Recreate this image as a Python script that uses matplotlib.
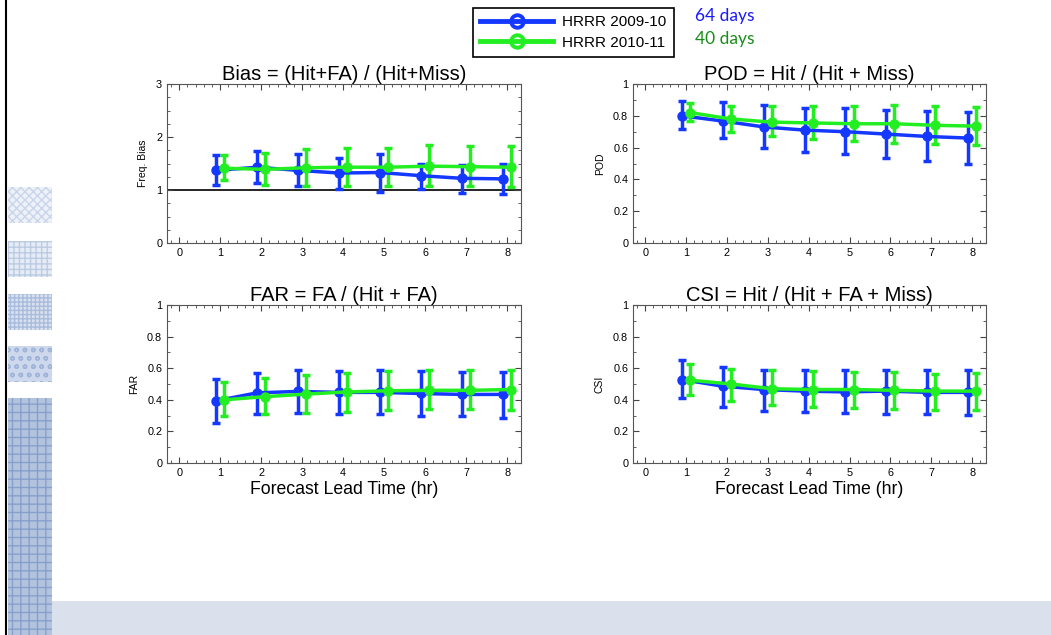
import matplotlib.pyplot as plt
import numpy as np
from matplotlib.patches import Rectangle
from matplotlib.lines import Line2D
from matplotlib.ticker import AutoMinorLocator, MultipleLocator, FuncFormatter

plt.rcParams['font.family'] = ['Liberation Sans', 'DejaVu Sans']

lead = np.arange(1, 9)
labels = ['HRRR 2009-10', 'HRRR 2010-11']
days = ['64 days', '40 days']

# Bias
bias_09 = [1.37, 1.43, 1.37, 1.32, 1.33, 1.27, 1.22, 1.21]
bias_09_lo = [1.09, 1.14, 1.07, 1.02, 0.97, 1.02, 0.95, 0.92]
bias_09_hi = [1.66, 1.73, 1.68, 1.60, 1.68, 1.49, 1.47, 1.50]
bias_10 = [1.41, 1.39, 1.42, 1.43, 1.43, 1.45, 1.44, 1.43]
bias_10_lo = [1.18, 1.10, 1.08, 1.07, 1.08, 1.08, 1.07, 1.06]
bias_10_hi = [1.66, 1.70, 1.77, 1.79, 1.79, 1.84, 1.83, 1.83]

# POD
pod_09 = [0.80, 0.767, 0.73, 0.71, 0.70, 0.685, 0.67, 0.66]
pod_09_lo = [0.716, 0.66, 0.60, 0.57, 0.56, 0.536, 0.517, 0.50]
pod_09_hi = [0.89, 0.887, 0.87, 0.85, 0.85, 0.836, 0.83, 0.825]
pod_10 = [0.82, 0.78, 0.76, 0.755, 0.75, 0.75, 0.74, 0.735]
pod_10_lo = [0.77, 0.70, 0.67, 0.655, 0.64, 0.63, 0.62, 0.615]
pod_10_hi = [0.88, 0.86, 0.86, 0.86, 0.86, 0.87, 0.86, 0.857]

# FAR
far_09 = [0.394, 0.444, 0.453, 0.447, 0.447, 0.44, 0.434, 0.434]
far_09_lo = [0.256, 0.31, 0.315, 0.31, 0.31, 0.30, 0.295, 0.287]
far_09_hi = [0.53, 0.57, 0.587, 0.583, 0.587, 0.583, 0.574, 0.576]
far_10 = [0.40, 0.42, 0.436, 0.45, 0.457, 0.46, 0.46, 0.465]
far_10_lo = [0.30, 0.31, 0.315, 0.325, 0.333, 0.34, 0.34, 0.335]
far_10_hi = [0.51, 0.535, 0.56, 0.57, 0.583, 0.587, 0.587, 0.587]

# CSI
csi_09 = [0.528, 0.486, 0.465, 0.455, 0.45, 0.455, 0.447, 0.447]
csi_09_lo = [0.41, 0.352, 0.33, 0.32, 0.315, 0.31, 0.31, 0.304]
csi_09_hi = [0.654, 0.608, 0.59, 0.59, 0.587, 0.59, 0.59, 0.587]
csi_10 = [0.524, 0.50, 0.47, 0.465, 0.465, 0.46, 0.455, 0.455]
csi_10_lo = [0.432, 0.394, 0.367, 0.356, 0.346, 0.34, 0.335, 0.335]
csi_10_hi = [0.625, 0.597, 0.587, 0.583, 0.576, 0.574, 0.566, 0.57]

blue = '#1438ff'
green = '#22ee22'

W, H = 1051, 635
fig = plt.figure(figsize=(W / 100, H / 100), dpi=100)

# slide decoration
fig.add_artist(Rectangle((52 / W, 0), 1, 34 / H, transform=fig.transFigure,
                         facecolor='#dbe1ec', edgecolor='none', zorder=0))
fig.add_artist(Line2D([6 / W, 6 / W], [0, 1], transform=fig.transFigure,
                      color='black', lw=1.5))
squares = [(187, 36, '#eef2f8', '#c9d5ea', 'xxxx'),
           (241, 36, '#e6ecf5', '#bccbe4', '+++'),
           (294, 36, '#d9e1f0', '#a9bcdc', '++++'),
           (346, 36, '#cdd8ec', '#9fb4d8', 'oo')]
for y0, h, fc, ec, hatch in squares:
    fig.add_artist(Rectangle((8 / W, 1 - (y0 + h) / H), 44 / W, h / H,
                             transform=fig.transFigure, facecolor=fc,
                             edgecolor=ec, hatch=hatch, lw=0))
fig.add_artist(Rectangle((8 / W, 0), 44 / W, 1 - 398 / H,
                         transform=fig.transFigure, facecolor='#b3c3de',
                         edgecolor='#86a0cc', hatch='++', lw=0))


def panel(rect, title, ylabel, ylim, ymajor, yminor, data):
    ax = fig.add_axes(rect)
    (v1, lo1, hi1), (v2, lo2, hi2) = data
    for x, v, lo, hi, c in [(lead - 0.1, v1, lo1, hi1, blue),
                            (lead + 0.1, v2, lo2, hi2, green)]:
        v = np.array(v)
        err = [v - np.array(lo), np.array(hi) - v]
        ax.errorbar(x, v, yerr=err, color=c, lw=2.5, elinewidth=2.5,
                    capsize=3, capthick=2.5, marker='o', ms=6.5)
    ax.set_xlim(-0.3, 8.34)
    ax.set_ylim(*ylim)
    ax.xaxis.set_major_locator(MultipleLocator(1))
    ax.xaxis.set_minor_locator(AutoMinorLocator(5))
    ax.yaxis.set_major_locator(MultipleLocator(ymajor))
    ax.yaxis.set_minor_locator(AutoMinorLocator(yminor))
    ax.yaxis.set_major_formatter(FuncFormatter(lambda v, p: '%g' % round(v, 2)))
    ax.tick_params(which='both', direction='in', top=True, right=True,
                   labelsize=7.8, color='#444444')
    ax.tick_params(which='major', length=4)
    ax.tick_params(which='minor', length=2)
    for s in ax.spines.values():
        s.set_color('#555555')
    ax.set_title(title, fontsize=14.5, pad=3)
    ax.set_ylabel(ylabel, fontsize=7.5, labelpad=6)
    return ax


ax1 = panel([167 / W, 1 - 243 / H, 354 / W, 159 / H],
            'Bias = (Hit+FA) / (Hit+Miss)', 'Freq. Bias', (0, 3), 1, 4,
            [(bias_09, bias_09_lo, bias_09_hi), (bias_10, bias_10_lo, bias_10_hi)])
ax1.axhline(1, color='black', lw=1.2, zorder=0)
panel([633 / W, 1 - 243 / H, 353 / W, 159 / H],
      'POD = Hit / (Hit + Miss)', 'POD', (0, 1), 0.2, 2,
      [(pod_09, pod_09_lo, pod_09_hi), (pod_10, pod_10_lo, pod_10_hi)])
ax3 = panel([167 / W, 1 - 463 / H, 354 / W, 158 / H],
            'FAR = FA / (Hit + FA)', 'FAR', (0, 1), 0.2, 2,
            [(far_09, far_09_lo, far_09_hi), (far_10, far_10_lo, far_10_hi)])
ax4 = panel([633 / W, 1 - 463 / H, 353 / W, 158 / H],
            'CSI = Hit / (Hit + FA + Miss)', 'CSI', (0, 1), 0.2, 2,
            [(csi_09, csi_09_lo, csi_09_hi), (csi_10, csi_10_lo, csi_10_hi)])
for ax in (ax3, ax4):
    ax.set_xlabel('Forecast Lead Time (hr)', fontsize=12.7, labelpad=2)

handles = [Line2D([], [], color=c, lw=3.5, marker='o', ms=9, mew=2.8,
                  mfc='none') for c in (blue, green)]
leg = fig.legend(handles, labels, loc='upper left',
                 bbox_to_anchor=(473 / W, 1 - 8 / H), fontsize=11,
                 fancybox=False, edgecolor='black', framealpha=1,
                 handlelength=4.8, borderpad=0.45, labelspacing=0.45,
                 handletextpad=0.6, borderaxespad=0)
leg.get_frame().set_linewidth(1.2)

fig.text(695 / W, 1 - 16 / H, days[0], color='#1a1aff', fontsize=12.5,
         family='Lato', va='center')
fig.text(695 / W, 1 - 39 / H, days[1], color='#1a8c1a', fontsize=12.5,
         family='Lato', va='center')

fig.savefig('out.png', dpi=100)
